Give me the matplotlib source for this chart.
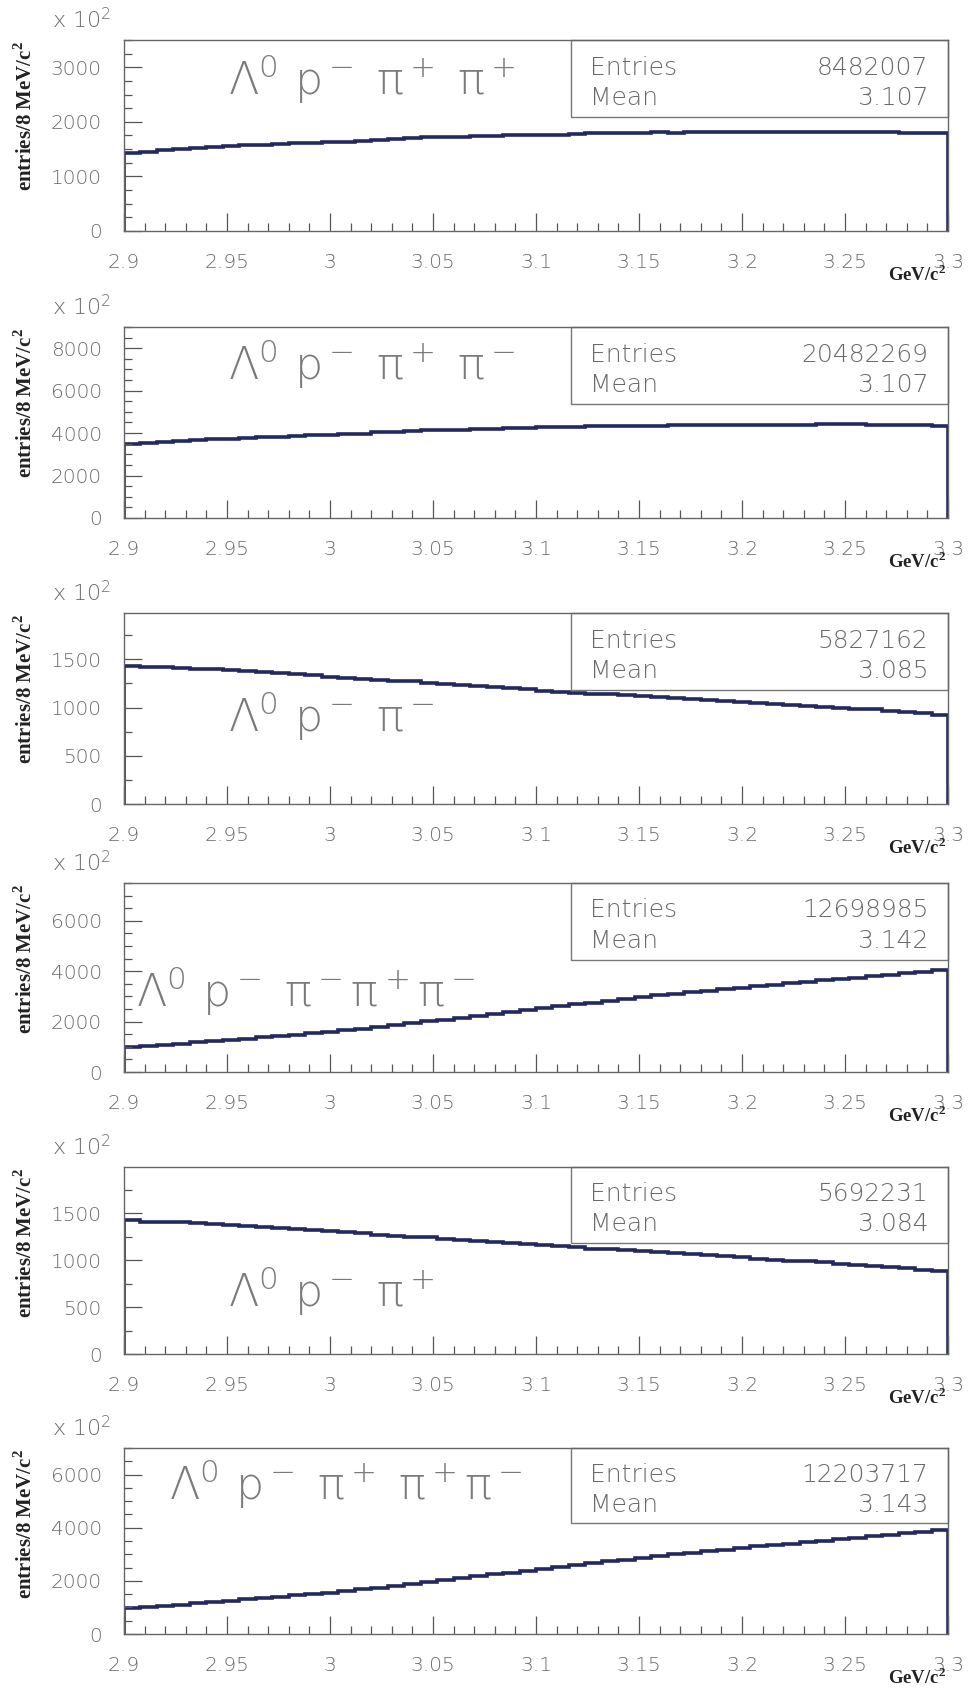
import matplotlib
matplotlib.use("Agg")

import matplotlib.pyplot as plt
from matplotlib.patches import Rectangle
from matplotlib.ticker import MultipleLocator
import numpy as np

# histogram binning: 50 bins of 8 MeV between 2.9 and 3.3 GeV
x_lo, x_hi, n_bins = 2.9, 3.3, 50

# bin contents, in units of 10^2 entries
vals_p1 = [1430, 1455, 1480, 1500, 1515, 1535, 1555, 1570, 1580, 1590,
           1605, 1615, 1630, 1640, 1650, 1675, 1690, 1705, 1715, 1720,
           1730, 1740, 1745, 1750, 1755, 1760, 1765, 1770, 1790, 1795,
           1800, 1800, 1805, 1800, 1805, 1805, 1810, 1805, 1810, 1810,
           1815, 1820, 1820, 1815, 1815, 1810, 1805, 1800, 1795, 1795]
vals_p2 = [3470, 3520, 3580, 3620, 3660, 3700, 3740, 3770, 3800, 3830,
           3860, 3890, 3920, 3950, 3980, 4040, 4070, 4100, 4130, 4150,
           4170, 4190, 4210, 4230, 4250, 4270, 4280, 4300, 4320, 4330,
           4340, 4350, 4350, 4360, 4360, 4370, 4380, 4390, 4390, 4400,
           4390, 4400, 4410, 4420, 4410, 4400, 4390, 4380, 4360, 4340]
vals_p3 = [1430, 1425, 1420, 1410, 1400, 1395, 1385, 1375, 1365, 1355,
           1345, 1335, 1320, 1310, 1300, 1290, 1280, 1270, 1255, 1245,
           1235, 1220, 1210, 1200, 1190, 1175, 1165, 1155, 1145, 1140,
           1130, 1120, 1110, 1100, 1090, 1080, 1070, 1060, 1050, 1040,
           1030, 1020, 1010, 1000, 990, 980, 965, 955, 940, 925]
vals_p4 = [1000, 1040, 1090, 1130, 1180, 1220, 1270, 1320, 1370, 1420,
           1470, 1530, 1590, 1660, 1720, 1800, 1870, 1940, 2010, 2080,
           2160, 2230, 2310, 2380, 2450, 2530, 2600, 2680, 2750, 2830,
           2900, 2970, 3040, 3100, 3170, 3230, 3290, 3350, 3410, 3470,
           3530, 3590, 3650, 3700, 3750, 3810, 3860, 3910, 3960, 4050]
vals_p5 = [1425, 1410, 1405, 1400, 1390, 1380, 1370, 1360, 1350, 1340,
           1330, 1320, 1305, 1295, 1285, 1270, 1260, 1250, 1240, 1225,
           1215, 1205, 1190, 1180, 1170, 1160, 1145, 1135, 1120, 1115,
           1105, 1095, 1085, 1075, 1065, 1050, 1040, 1030, 1015, 1005,
           995, 985, 975, 960, 950, 940, 925, 910, 895, 885]
vals_p6 = [960, 1000, 1050, 1100, 1150, 1200, 1250, 1300, 1350, 1400,
           1450, 1500, 1560, 1620, 1680, 1750, 1820, 1890, 1960, 2030,
           2100, 2170, 2240, 2310, 2380, 2450, 2520, 2590, 2660, 2730,
           2800, 2870, 2940, 3000, 3060, 3120, 3180, 3240, 3300, 3350,
           3400, 3460, 3510, 3560, 3620, 3680, 3730, 3790, 3850, 3920]

channels = ["Λ$^0$ p$^-$ π$^+$ π$^+$",
            "Λ$^0$ p$^-$ π$^+$ π$^-$",
            "Λ$^0$ p$^-$ π$^-$",
            "Λ$^0$ p$^-$ π$^-$π$^+$π$^-$",
            "Λ$^0$ p$^-$ π$^+$",
            "Λ$^0$ p$^-$ π$^+$ π$^+$π$^-$"]
entries = ["8482007", "20482269", "5827162", "12698985", "5692231", "12203717"]
means = ["3.107", "3.107", "3.085", "3.142", "3.084", "3.143"]
y_max = [3500, 9000, 1980, 7500, 1990, 7000]
y_major = [1000, 2000, 500, 2000, 500, 2000]
y_minor = [250, 500, 250, 500, 250, 500]

x_ticks = [2.9, 2.95, 3.0, 3.05, 3.1, 3.15, 3.2, 3.25, 3.3]
x_ticklabels = ["2.9", "2.95", "3", "3.05", "3.1", "3.15", "3.2", "3.25", "3.3"]

all_vals = [vals_p1, vals_p2, vals_p3, vals_p4, vals_p5, vals_p6]

# layout in pixels
W, H = 979, 1688
ax_left, ax_right = 124, 948
panel_px = [(40, 231), (327, 518), (613, 804), (883, 1072), (1167, 1354), (1448, 1634)]
label_pos = [(0.126, 0.71), (0.126, 0.72), (0.126, 0.375), (0.015, 0.345), (0.126, 0.25), (0.055, 0.72)]

grey = "#6a6a6a"
line_col = "#23285f"
thin = "DejaVu Sans"

plt.rcParams["mathtext.fontset"] = "custom"
plt.rcParams["mathtext.rm"] = "DejaVu Sans:weight=200"
plt.rcParams["mathtext.it"] = "DejaVu Sans:weight=200"
plt.rcParams["mathtext.bf"] = "Liberation Serif:bold"

fig = plt.figure(figsize=(W / 100, H / 100), dpi=100)
edges = np.linspace(x_lo, x_hi, n_bins + 1)

for i, (top, bot) in enumerate(panel_px):
    ax = fig.add_axes([ax_left / W, 1 - bot / H, (ax_right - ax_left) / W, (bot - top) / H])

    ax.stairs(all_vals[i], edges, baseline=0, color=line_col, linewidth=2.6)

    ax.set_xlim(x_lo, x_hi)
    ax.set_ylim(0, y_max[i])
    ax.set_xticks(x_ticks)
    ax.set_xticklabels(x_ticklabels)
    ax.xaxis.set_minor_locator(MultipleLocator(0.01))
    ax.yaxis.set_major_locator(MultipleLocator(y_major[i]))
    ax.yaxis.set_minor_locator(MultipleLocator(y_minor[i]))
    ax.tick_params(which="both", direction="in", top=False, right=False,
                   colors="#555555", width=0.9, labelcolor=grey)
    ax.tick_params(which="major", length=13, labelsize=14.5)
    ax.tick_params(axis="x", which="major", pad=16)
    ax.tick_params(axis="y", which="major", pad=16)
    ax.tick_params(which="minor", length=6)
    for lab in ax.get_xticklabels() + ax.get_yticklabels():
        lab.set_family(thin)
        lab.set_fontweight(200)
    for sp in ax.spines.values():
        sp.set_color("#666666")
        sp.set_linewidth(1.0)

    # stats box
    ax.add_patch(Rectangle((0.542, 0.595), 0.458, 0.405, transform=ax.transAxes,
                           fill=False, edgecolor="#777777", linewidth=1.0, clip_on=False))
    for txt, xx, yy, ha in [("Entries", 0.566, 0.855, "left"), (entries[i], 0.976, 0.855, "right"),
                            ("Mean", 0.566, 0.695, "left"), (means[i], 0.976, 0.695, "right")]:
        ax.text(xx, yy, txt, transform=ax.transAxes, va="center", ha=ha,
                fontsize=18, color=grey, family=thin, fontweight=200)

    # decay channel
    ax.text(label_pos[i][0], label_pos[i][1], channels[i], transform=ax.transAxes,
            ha="left", va="baseline", fontsize=32, color="#7a7a7a",
            family=thin, fontweight=200)

    # axis titles
    fig.text(26 / W, 1 - (top + 1) / H, "entries/8 MeV/c$^\\mathbf{2}$", rotation=90,
             ha="center", va="top", fontsize=15, fontweight="bold",
             family="Liberation Serif", color="#222222")
    fig.text(52 / W, 1 - (top - 20) / H, "x 10$^2$", ha="left", va="center",
             fontsize=16, color=grey, family=thin, fontweight=200)
    fig.text(946 / W, 1 - (bot + 44) / H, "GeV/c$^\\mathbf{2}$", ha="right", va="center",
             fontsize=13.5, fontweight="bold", family="Liberation Serif", color="#222222")

fig.savefig("out.png", dpi=100)
